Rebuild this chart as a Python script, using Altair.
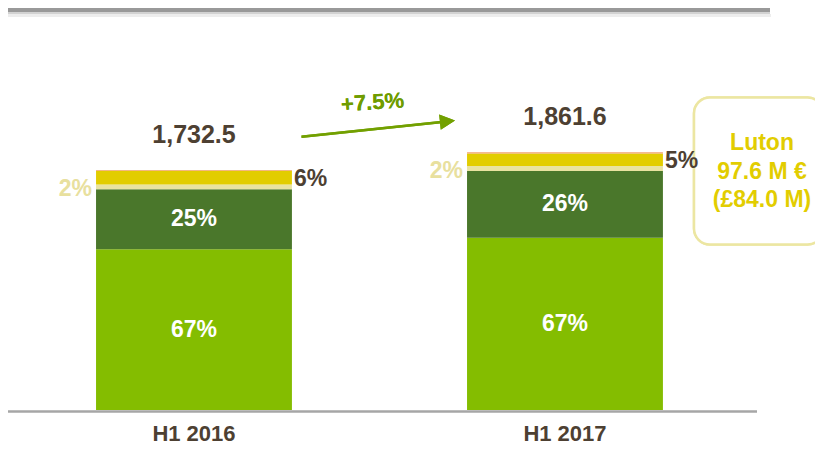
import altair as alt
import pandas as pd

# ---------------- data ----------------
periods = ["H1 2016", "H1 2017"]
totals = [1732.5, 1861.6]
total_labels = ["1,732.5", "1,861.6"]
segments = ["Segment 1", "Segment 2", "Segment 3", "Segment 4", "Segment 5"]
seg_colors = ["#84BD00", "#4A772B", "#E9E3A0", "#E2CD00", "#F2A36E"]
values_2016 = [1161, 433, 35, 99, 4.5]
values_2017 = [1244, 481, 37, 90, 9.6]
pct_2016 = ["67%", "25%", "2%", "6%", ""]
pct_2017 = ["67%", "26%", "2%", "5%", ""]
label_side = ["in", "in", "left", "right", "none"]
growth_label = "+7.5%"
callout_lines = ["Luton", "97.6 M €", "(£84.0 M)"]

FONT = "Liberation Sans"
BROWN = "#4D4032"
GREEN = "#72A000"
YELLOW_TXT = "#E2CD00"

# ---------------- scales ----------------
W, H = 807, 437
X_DOM = [-0.5013, 1.6739]
Y_DOM = [-252.7, 2902.5]
xs = alt.Scale(domain=X_DOM, nice=False, zero=False)
ys = alt.Scale(domain=Y_DOM, nice=False, zero=False)


def px_x(page_x):
    p = page_x - 8
    return X_DOM[0] + p / W * (X_DOM[1] - X_DOM[0])


def px_y(page_y):
    p = page_y - 8
    return Y_DOM[1] - p / H * (Y_DOM[1] - Y_DOM[0])


def XD(v):
    return alt.XDatum(v, type="quantitative", scale=xs, axis=None)


def YD(v):
    return alt.YDatum(v, type="quantitative", scale=ys, axis=None)


rows = []
for i, (vals, pcts) in enumerate([(values_2016, pct_2016), (values_2017, pct_2017)]):
    for j, seg in enumerate(segments):
        rows.append(dict(period=periods[i], idx=i, segment=seg, order=j,
                         value=vals[j], pct=pcts[j], side=label_side[j]))
df = pd.DataFrame(rows)
tot_df = pd.DataFrame(dict(period=periods, idx=[0, 1], total=totals, label=total_labels))

HALF = 0.264
base = alt.Chart(df).transform_stack(
    stack="value", as_=["y0", "y1"], groupby=["period"],
    sort=[alt.SortField("order", order="ascending")]
).transform_calculate(
    xl=f"datum.idx - {HALF}", xr=f"datum.idx + {HALF}",
    mid="(datum.y0 + datum.y1) / 2"
)

bars = base.mark_rect().encode(
    x=alt.X("xl:Q", scale=xs, axis=None), x2="xr:Q",
    y=alt.Y("y0:Q", scale=ys, axis=None), y2="y1:Q",
    color=alt.Color("segment:N", scale=alt.Scale(domain=segments, range=seg_colors), legend=None),
)

in_labels = base.transform_filter("datum.side == 'in'").mark_text(
    font=FONT, fontSize=23, fontWeight="bold", color="white", baseline="middle"
).encode(x=alt.X("idx:Q", scale=xs, axis=None), y=alt.Y("mid:Q", scale=ys, axis=None), text="pct:N")

left_labels = base.transform_filter("datum.side == 'left'").mark_text(
    font=FONT, fontSize=23, fontWeight="bold", color="#E8E09E", baseline="middle",
    align="right", dx=-4, dy=2
).encode(x=alt.X("xl:Q", scale=xs, axis=None), y=alt.Y("mid:Q", scale=ys, axis=None), text="pct:N")

right_labels = base.transform_filter("datum.side == 'right'").mark_text(
    font=FONT, fontSize=23, fontWeight="bold", color=BROWN, baseline="middle",
    align="left", dx=2, dy=1
).encode(x=alt.X("xr:Q", scale=xs, axis=None), y=alt.Y("mid:Q", scale=ys, axis=None), text="pct:N")

total_text = alt.Chart(tot_df).mark_text(
    font=FONT, fontSize=25, fontWeight="bold", color=BROWN, baseline="middle", dy=-35
).encode(x=alt.X("idx:Q", scale=xs, axis=None), y=alt.Y("total:Q", scale=ys, axis=None), text="label:N")

period_text = alt.Chart(tot_df).mark_text(
    font=FONT, fontSize=22, fontWeight="bold", color=BROWN, baseline="middle"
).encode(x=alt.X("idx:Q", scale=xs, axis=None), y=YD(px_y(434)), text="period:N")

# axis baseline
axis_line = alt.Chart(tot_df).mark_rule(color="#A6A6A6", strokeWidth=2).encode(
    x=XD(px_x(8)), x2=alt.X2Datum(px_x(757)), y=YD(px_y(411.5)))

# top decorative line with shadow
top_shadow2 = alt.Chart(tot_df).mark_rule(color="#EDEDED", strokeWidth=3).encode(
    x=XD(px_x(8)), x2=alt.X2Datum(px_x(771)), y=YD(px_y(15.5)))
top_shadow = alt.Chart(tot_df).mark_rule(color="#D2D2D2", strokeWidth=2).encode(
    x=XD(px_x(8)), x2=alt.X2Datum(px_x(770)), y=YD(px_y(13)))
top_line = alt.Chart(tot_df).mark_rule(color="#999999", strokeWidth=4).encode(
    x=XD(px_x(8)), x2=alt.X2Datum(px_x(770)), y=YD(px_y(10)))

# growth arrow
arrow_line = alt.Chart(tot_df).mark_rule(color=GREEN, strokeWidth=2.5).encode(
    x=XD(px_x(301.5)), x2=alt.X2Datum(px_x(442)),
    y=YD(px_y(136.7)), y2=alt.Y2Datum(px_y(122.0)))
arrow_head = alt.Chart(tot_df).mark_point(
    shape="M-1,-1L1,0L-1,1Z", filled=True, opacity=1, color=GREEN, size=230, angle=354
).encode(x=XD(px_x(447.5)), y=YD(px_y(121.3)))
growth_text = alt.Chart(tot_df).mark_text(
    font=FONT, fontSize=22, fontWeight="bold", color="#6F9C00", baseline="middle", angle=356
).encode(x=XD(px_x(372.5)), y=YD(px_y(102.5)), text=alt.value(growth_label))

# callout box (extends past the right edge, clipped)
box = alt.Chart(tot_df).mark_rect(
    fill="white", stroke="#ECE6A2", strokeWidth=2.5, cornerRadius=16, clip=True
).encode(x=XD(px_x(694)), x2=alt.X2Datum(px_x(823.5)),
         y=YD(px_y(97.5)), y2=alt.Y2Datum(px_y(244.5)))
call_df = pd.DataFrame(dict(line=callout_lines, k=[0, 1, 2]))
call_y = [px_y(143), px_y(172), px_y(200)]
call_text = alt.Chart(call_df).transform_calculate(
    yy=f"[{call_y[0]}, {call_y[1]}, {call_y[2]}][datum.k]"
).mark_text(
    font=FONT, fontSize=23, fontWeight="bold", color=YELLOW_TXT, baseline="middle"
).encode(x=XD(px_x(762)), y=alt.Y("yy:Q", scale=ys, axis=None), text="line:N")

chart = alt.layer(
    top_shadow2, top_shadow, top_line, box, call_text,
    bars, axis_line, in_labels, left_labels, right_labels, total_text, period_text,
    arrow_line, arrow_head, growth_text
).properties(
    width=W, height=H, padding=0,
    autosize=alt.AutoSizeParams(type="none"),
    background="white"
).configure_view(stroke=None)

chart.save("out.html", embed_options={"renderer": "svg", "actions": False})
